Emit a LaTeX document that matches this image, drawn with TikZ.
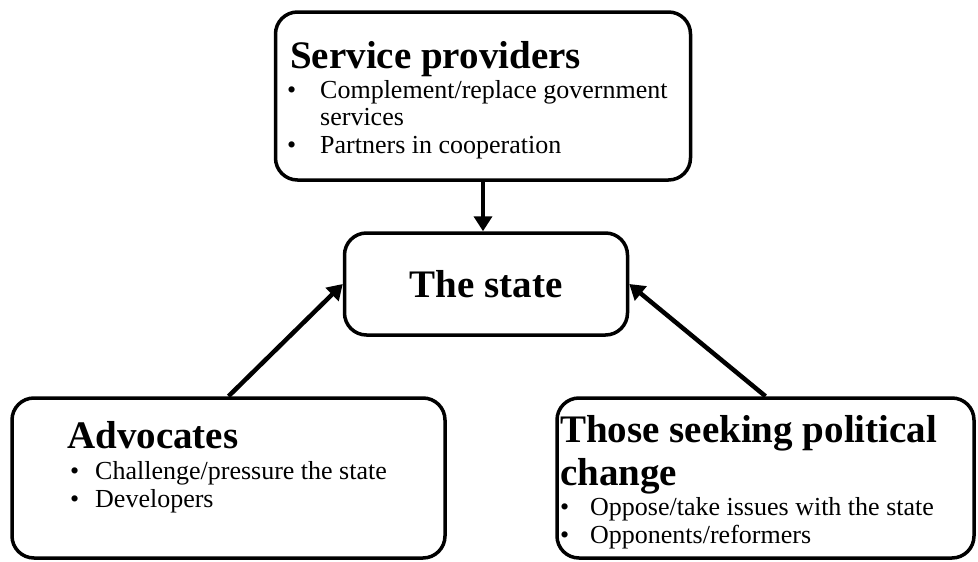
\documentclass[tikz,border=0pt]{standalone}
\usepackage{fontspec}
\setmainfont{Liberation Serif}
\usetikzlibrary{arrows.meta}
\newcommand{\bul}[2]{\makebox[#1][l]{\textbullet}#2}
\begin{document}
\begin{tikzpicture}[x=1pt,y=-1pt,
  box/.style={draw, line width=3.5pt, rounded corners=22pt, inner sep=0pt},
  heading/.style={anchor=base west, inner sep=0pt, align=left,
    font=\fontsize{39}{43}\bfseries},
  items/.style={anchor=base west, inner sep=0pt, align=left,
    font=\fontsize{26}{27.5}\selectfont},
  link/.style={line width=4.5pt, -{Triangle[length=15pt,width=18pt]}}]
\useasboundingbox (0,0) rectangle (978,562);

% boxes
\node[box, minimum width=415pt, minimum height=168pt] (sp) at (483,96) {};
\node[box, minimum width=283pt, minimum height=102pt] (state) at (486,284) {};
\node[box, minimum width=433pt, minimum height=160pt] (adv) at (228.5,478) {};
\node[box, minimum width=417pt, minimum height=160pt] (pol) at (765.5,478) {};

% texts (multi-line nodes sit on the baseline of their last line)
\node[heading] (sp-title) at (290,68) {Service providers};
\node[items] (sp-list) at (287,153)
  {\bul{33pt}{Complement/replace government}\\\hspace*{33pt}services\\\bul{33pt}{Partners in cooperation}};

\node[anchor=center, inner sep=0pt, font=\fontsize{39}{43}\bfseries] (state-title) at (state) {The state};

\node[heading] (adv-title) at (67,448) {Advocates};
\node[items] (adv-list) at (70,507)
  {\bul{25pt}{Challenge/pressure the state}\\\bul{25pt}{Developers}};

\node[heading] (pol-title) at (560,485) {Those seeking political\\change};
\node[items] (pol-list) at (560,543)
  {\bul{30pt}{Oppose/take issues with the state}\\\bul{30pt}{Opponents/reformers}};

% connectors
\draw[link] (sp.south) -- (sp.south |- state.north);
\draw[link] (adv.north) -- (state.west);
\draw[link] (pol.north) -- (state.east);
\end{tikzpicture}
\end{document}
